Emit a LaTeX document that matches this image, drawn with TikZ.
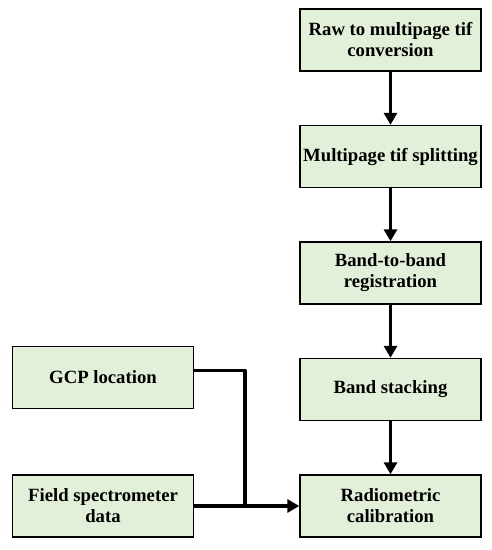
\documentclass[tikz,border=0pt]{standalone}
\usepackage{fontspec}
\setmainfont{Liberation Serif}
\usepackage{tikz}
\usetikzlibrary{positioning}
\usetikzlibrary{arrows.meta}
\usepackage{xcolor}
\definecolor{boxgreen}{HTML}{E2F0D9}

\begin{document}
\begin{tikzpicture}[x=1pt,y=1pt,node distance=116.5pt,on grid,
   procbox/.style={draw=black,line width=1.4pt,fill=boxgreen,
      minimum width=181pt,minimum height=62pt,align=center,
      font=\fontsize{18.7}{21}\selectfont\bfseries},
   flow/.style={line width=3.8pt,-{Triangle[length=12pt,width=13pt]}}]
   \useasboundingbox (0,0) rectangle (492,-550);
   \node[procbox] (raw) at (390.5,-40) {Raw to multipage tif\\conversion};
   \node[procbox] (split) [below=of raw] {Multipage tif splitting};
   \node[procbox] (reg) [below=of split] {Band-to-band\\registration};
   \node[procbox] (stack) [below=of reg] {Band stacking};
   \node[procbox] (calib) [below=of stack] {Radiometric\\calibration};
   \node[procbox] (gcp) at (103,-377.5) {GCP location};
   \node[procbox] (field) at (103,-506) {Field spectrometer\\data};
   \coordinate (join) at (245,-506);
   % main chain
   \draw[flow] (raw) -- (split);
   \draw[flow] (split) -- (reg);
   \draw[flow] (reg) -- (stack);
   \draw[flow] (stack) -- (calib);
   % side inputs
   \draw[line width=3.8pt,line join=round] ([yshift=7pt]gcp.east) -| (join);
   \draw[flow] (field) -- (calib);
\end{tikzpicture}
\end{document}
